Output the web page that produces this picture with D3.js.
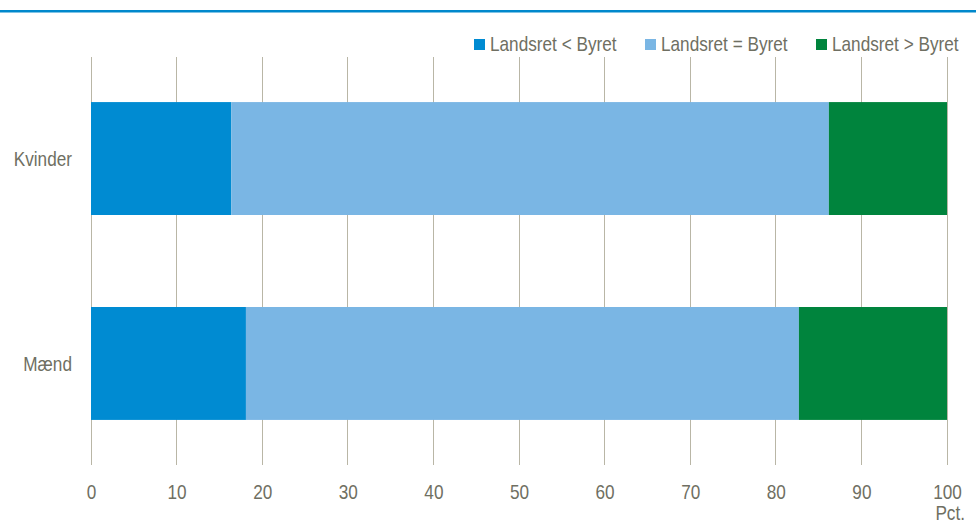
<!DOCTYPE html>
<html><head><meta charset="utf-8">
<script src="https://cdn.jsdelivr.net/npm/d3@7"></script>
<style>
body{margin:0;background:#fff;}
text{font-family:"Liberation Sans",Arial,sans-serif;fill:#6f6f62;font-size:20px;}
</style></head>
<body><svg id="c" width="976" height="529"></svg>
<script>
const categories = ["Kvinder", "Mænd"];
const seriesNames = ["Landsret < Byret", "Landsret = Byret", "Landsret > Byret"];
const lessValues = [16.4, 18.1];
const equalValues = [69.8, 64.6];
const greaterValues = [13.8, 17.3];
const tickValues = [0, 10, 20, 30, 40, 50, 60, 70, 80, 90, 100];
const colors = ["#008bd2", "#7ab6e4", "#00843d"];

const svg = d3.select("#c");
const W = 976, H = 529;
const m = {left: 91, right: 29, top: 57, bottom: 64};
const SX = 0.86;

svg.append("rect").attr("x",0).attr("y",10).attr("width",W).attr("height",2.5).attr("fill","#0088cc");

const x = d3.scaleLinear().domain([0,100]).range([m.left, W - m.right]);
const y = d3.scaleBand().domain(categories).range([m.top, H - m.bottom]).paddingInner(0.449).paddingOuter(0.22);

// gridlines
svg.append("g").selectAll("line").data(tickValues).join("line")
  .attr("x1", d => x(d)).attr("x2", d => x(d))
  .attr("y1", m.top).attr("y2", H - m.bottom)
  .attr("stroke", "#b9b6a6").attr("stroke-width", 1).attr("shape-rendering","crispEdges");

const data = categories.map((c,i) => ({cat:c, v:[lessValues[i], equalValues[i], greaterValues[i]]}));
const stacked = d3.stack().keys([0,1,2]).value((d,k) => d.v[k])(data);

svg.append("g").selectAll("g").data(stacked).join("g")
  .attr("fill", (d,i) => colors[i])
  .selectAll("rect").data(d => d).join("rect")
  .attr("x", d => x(d[0])).attr("width", d => x(d[1]) - x(d[0]))
  .attr("y", d => y(d.data.cat)).attr("height", y.bandwidth());

// x tick labels
const xAxis = d3.axisBottom(x).tickValues(tickValues).tickSize(0).tickPadding(0).tickFormat(d3.format("d"));
const gx = svg.append("g").attr("transform", `translate(0,${H - m.bottom})`).call(xAxis);
gx.select(".domain").remove();
gx.selectAll("text").attr("dy", null).attr("y", 34).attr("fill","#6f6f62").attr("font-size",null).attr("font-family",null);
gx.attr("font-size",null).attr("font-family",null);

svg.append("text").attr("x", 965).attr("y", 520).attr("text-anchor","end").text("Pct.");

// y labels
const yAxis = d3.axisLeft(y).tickSize(0).tickPadding(0);
const gy = svg.append("g").attr("transform", `translate(72,0)`).call(yAxis);
gy.select(".domain").remove();
gy.attr("font-size",null).attr("font-family",null);
gy.selectAll("text").attr("x",0).attr("dy","0.37em").attr("fill","#6f6f62");

// legend
const legendX = [474, 645, 816];
const lg = svg.append("g").selectAll("g").data(seriesNames).join("g")
  .attr("transform", (d,i) => `translate(${legendX[i]},39)`);
lg.append("rect").attr("width",11).attr("height",11).attr("fill",(d,i)=>colors[i]);
lg.append("text").attr("x",16).attr("y",12).text(d => d);

// condense all text horizontally (reference uses a narrow typeface)
svg.selectAll("text").each(function(){
  const t = d3.select(this);
  const tx = +t.attr("x") || 0, ty = +t.attr("y") || 0;
  t.attr("x", 0).attr("y", 0).attr("transform", `translate(${tx},${ty}) scale(${SX},1)`);
});
</script></body></html>
